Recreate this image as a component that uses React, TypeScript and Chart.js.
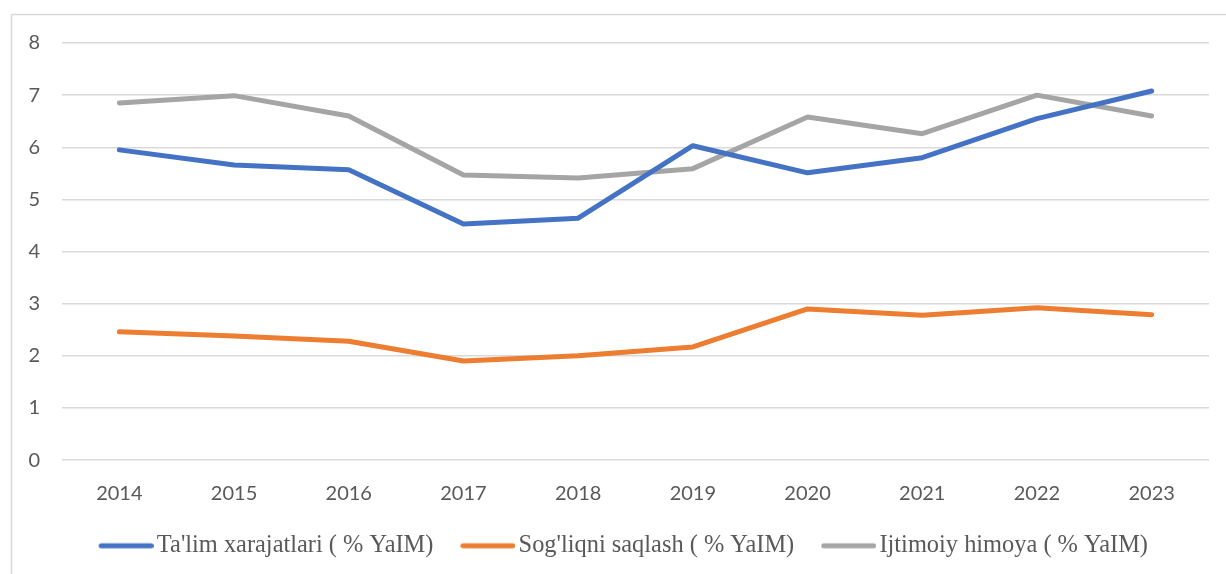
import React, { useEffect, useRef } from 'react';
import { Chart, registerables } from 'chart.js';

Chart.register(...registerables);

const years = ['2014', '2015', '2016', '2017', '2018', '2019', '2020', '2021', '2022', '2023'];
const talim = [5.95, 5.66, 5.57, 4.53, 4.64, 6.03, 5.51, 5.8, 6.55, 7.08];
const sogliq = [2.46, 2.38, 2.28, 1.9, 2.0, 2.17, 2.9, 2.78, 2.92, 2.79];
const ijtimoiy = [6.85, 6.99, 6.6, 5.47, 5.41, 5.59, 6.58, 6.26, 7.0, 6.6];
const seriesNames = ['Ta\'lim xarajatlari ( % YaIM)', 'Sog\'liqni saqlash ( % YaIM)', 'Ijtimoiy himoya ( % YaIM)'];
const seriesColors = ['#4472C4', '#ED7D31', '#A5A5A5'];

const borderPlugin = {
  id: 'outerBorder',
  beforeDraw(chart: any) {
    const ctx = chart.ctx;
    ctx.save();
    ctx.fillStyle = '#FFFFFF';
    ctx.fillRect(0, 0, chart.width, chart.height);
    ctx.strokeStyle = '#D9D9D9';
    ctx.lineWidth = 1.5;
    ctx.strokeRect(11.5, 14.5, 3000, 3000);
    ctx.restore();
  },
};

function legendMarker(color: string) {
  const c = document.createElement('canvas');
  c.width = 64;
  c.height = 8;
  const g = c.getContext('2d')!;
  g.strokeStyle = color;
  g.lineWidth = 5;
  g.lineCap = 'round';
  g.beginPath();
  g.moveTo(11.5, 4);
  g.lineTo(61.5, 4);
  g.stroke();
  return c;
}

export default function App() {
  const ref = useRef<HTMLCanvasElement | null>(null);

  useEffect(() => {
    document.body.style.margin = '0';
    if (!ref.current) return;
    const datasets = [talim, sogliq, ijtimoiy].map((d, i) => ({
      label: seriesNames[i],
      data: d,
      borderColor: seriesColors[i],
      backgroundColor: seriesColors[i],
      borderWidth: 5,
      borderCapStyle: 'round' as const,
      borderJoinStyle: 'round' as const,
      pointRadius: 0,
      pointHoverRadius: 0,
      pointStyle: legendMarker(seriesColors[i]) as any,
      tension: 0,
      fill: false,
    }));
    const chart = new Chart(ref.current, {
      type: 'line',
      data: { labels: years, datasets },
      plugins: [borderPlugin],
      options: {
        animation: false,
        responsive: false,
        maintainAspectRatio: false,
        layout: { padding: { left: 0, right: 17, top: 43, bottom: 6 } },
        scales: {
          x: {
            offset: true,
            grid: { display: false, drawTicks: false },
            border: { display: false },
            ticks: {
              color: '#595959',
              font: { family: 'Lato', size: 20 },
              padding: 21,
              maxRotation: 0,
            },
            afterFit(scale: any) {
              scale.height = 46.5;
            },
          },
          y: {
            min: 0,
            max: 8,
            grid: { color: '#D9D9D9', lineWidth: 1.5, drawTicks: false },
            border: { display: false },
            ticks: {
              stepSize: 1,
              color: '#595959',
              font: { family: 'Lato', size: 20 },
              padding: 22,
            },
            afterFit(scale: any) {
              scale.width = 62;
            },
          },
        },
        plugins: {
          legend: {
            position: 'bottom',
            fullSize: false,
            labels: {
              usePointStyle: true,
              pointStyleWidth: 46,
              boxHeight: 5,
              padding: 27,
              color: '#595959',
              font: { family: 'Liberation Serif', size: 24.4 },
              generateLabels(chart: any) {
                const items = Chart.defaults.plugins.legend.labels.generateLabels(chart);
                items[items.length - 1].text += '\u00a0\u00a0\u00a0\u00a0';
                return items;
              },
            },
          },
          tooltip: { enabled: false },
        },
      },
    });
    return () => chart.destroy();
  }, []);

  return (
    <div style={{ position: 'absolute', left: 0, top: 0, width: 1226, height: 574 }}>
      <canvas ref={ref} width={1226} height={574} style={{ width: 1226, height: 574 }} />
    </div>
  );
}
